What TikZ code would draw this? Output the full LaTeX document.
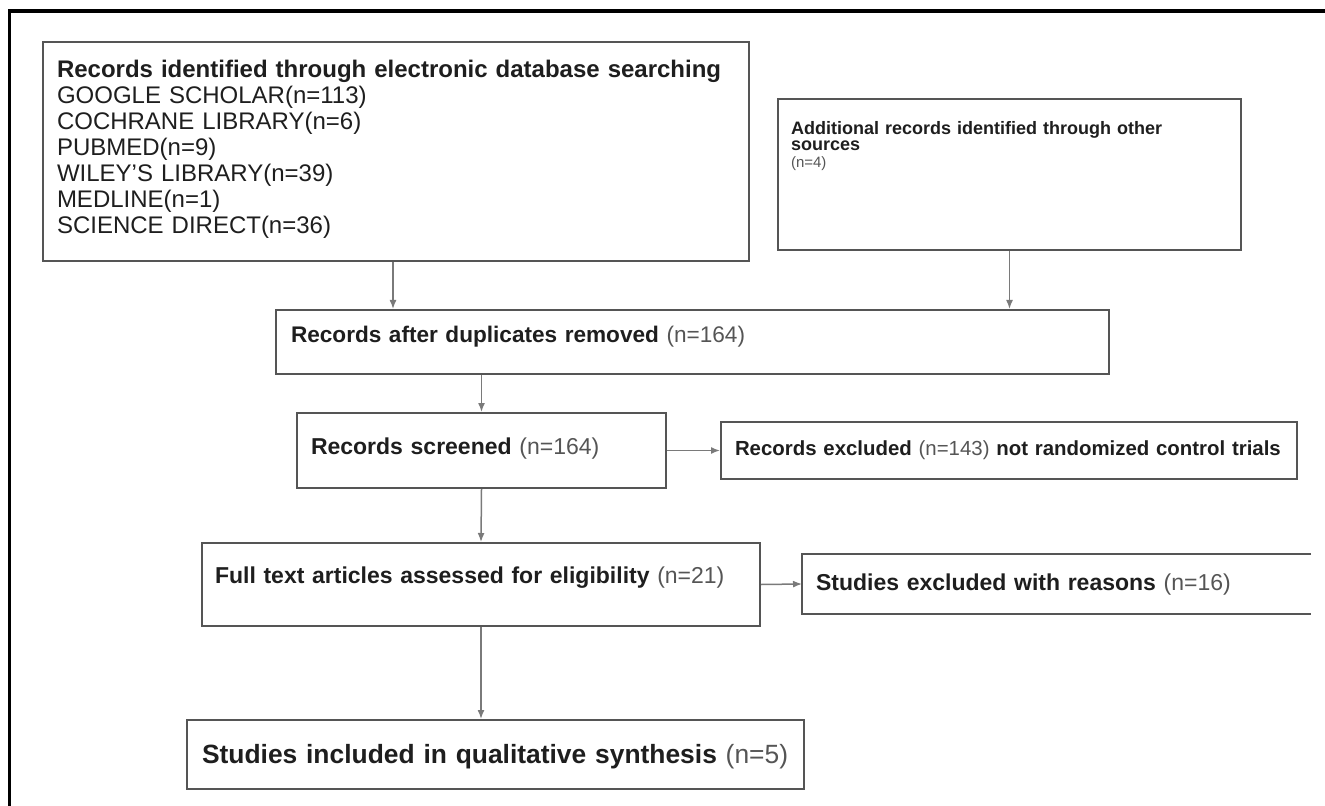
\documentclass[tikz,border=0pt]{standalone}
\usepackage{fontspec}
\setmainfont{Liberation Sans}
\usetikzlibrary{arrows.meta}
\definecolor{boxgray}{HTML}{555555}
\definecolor{arrgray}{HTML}{7A7A7A}
\definecolor{ngray}{HTML}{555555}
\definecolor{txtblack}{HTML}{1E1E1E}
\newcommand*{\fs}[2]{\fontsize{#1}{#2}\selectfont}
\newcommand*{\nval}[1]{{\mdseries\color{ngray}#1}}

\begin{document}
\begin{tikzpicture}[x=0.5pt, y=-0.5pt,
    box/.style={draw=boxgray, line width=1pt, anchor=north west, align=left,
      inner ysep=0pt, text=txtblack, font=\fs{11.5}{13}\bfseries},
    arr/.style={draw=arrgray, line width=0.75pt,
      -{Latex[length=4.5pt,width=3.5pt]}}]
  \useasboundingbox (0,0) rectangle (1325,806);
  \draw[line width=1.75pt] (9.5,806) -- (9.5,11) -- (1325,11);

  \node[box, inner xsep=7pt, text width=339pt, text height=18pt,
    text depth=91.5pt, font=\fs{12}{13}] (search) at (42,41)
    {\textbf{Records identified through electronic database searching}\\
     GOOGLE SCHOLAR(n=113)\\
     COCHRANE LIBRARY(n=6)\\
     PUBMED(n=9)\\
     WILEY'S LIBRARY(n=39)\\
     MEDLINE(n=1)\\
     SCIENCE DIRECT(n=36)};
  \node[box, inner xsep=6.5pt, text width=218.5pt, text height=17.75pt,
    text depth=57.75pt, font=\fs{9}{8.25}\bfseries] (other) at (777,98)
    {Additional records identified through other\\
     sources\\
     {\fs{7.5}{8.25}\nval{(n=4)}}};
  \node[box, inner xsep=7.5pt, text width=401.5pt, text height=16.5pt,
    text depth=15.5pt, font=\fs{11.3}{13}\bfseries] (dedup) at (275,309)
    {Records after duplicates removed \nval{(n=164)}};
  \node[box, inner xsep=7pt, text width=170.5pt, text height=20.5pt,
    text depth=17pt] (screen) at (296,412)
    {Records screened \nval{(n=164)}};
  \node[box, inner xsep=7pt, text width=274pt, text height=16.5pt,
    text depth=12pt, font=\fs{10.2}{12}\bfseries] (excl) at (720,421)
    {Records excluded \nval{(n=143)} not randomized control trials};
  \node[box, inner xsep=6.5pt, text width=266pt, text height=20pt,
    text depth=21.5pt] (full) at (201,542)
    {Full text articles assessed for eligibility \nval{(n=21)}};
  \node[box, draw=none, inner xsep=6.5pt, text width=240.5pt,
    text height=17.5pt, text depth=11.5pt] (studexcl) at (802,554)
    {Studies excluded with reasons \nval{(n=16)}};
  \node[box, inner xsep=7.5pt, text width=293.5pt, text height=21.5pt,
    text depth=13pt, font=\fs{13.2}{15}\bfseries] (incl) at (186,719)
    {Studies included in qualitative synthesis \nval{(n=5)}};

  % open right side
  \draw[draw=boxgray, line width=1pt] (studexcl.north east)
    -- (studexcl.north west) -- (studexcl.south west) -- (studexcl.south east);

  \draw[arr] ([xshift=175.5pt]search.south west) -- ([xshift=59pt]dedup.north west);
  \draw[arr] (other.south) -- (other.south |- dedup.north);
  \draw[arr] (screen.north |- dedup.south) -- (screen.north);
  \draw[arr] (screen.east) -- (excl.west);
  \draw[arr] (screen.south) -- (full.north);
  \draw[arr] (full.east) -- (studexcl.west);
  \draw[arr] (full.south) -- (full.south |- incl.north);
\end{tikzpicture}
\end{document}
